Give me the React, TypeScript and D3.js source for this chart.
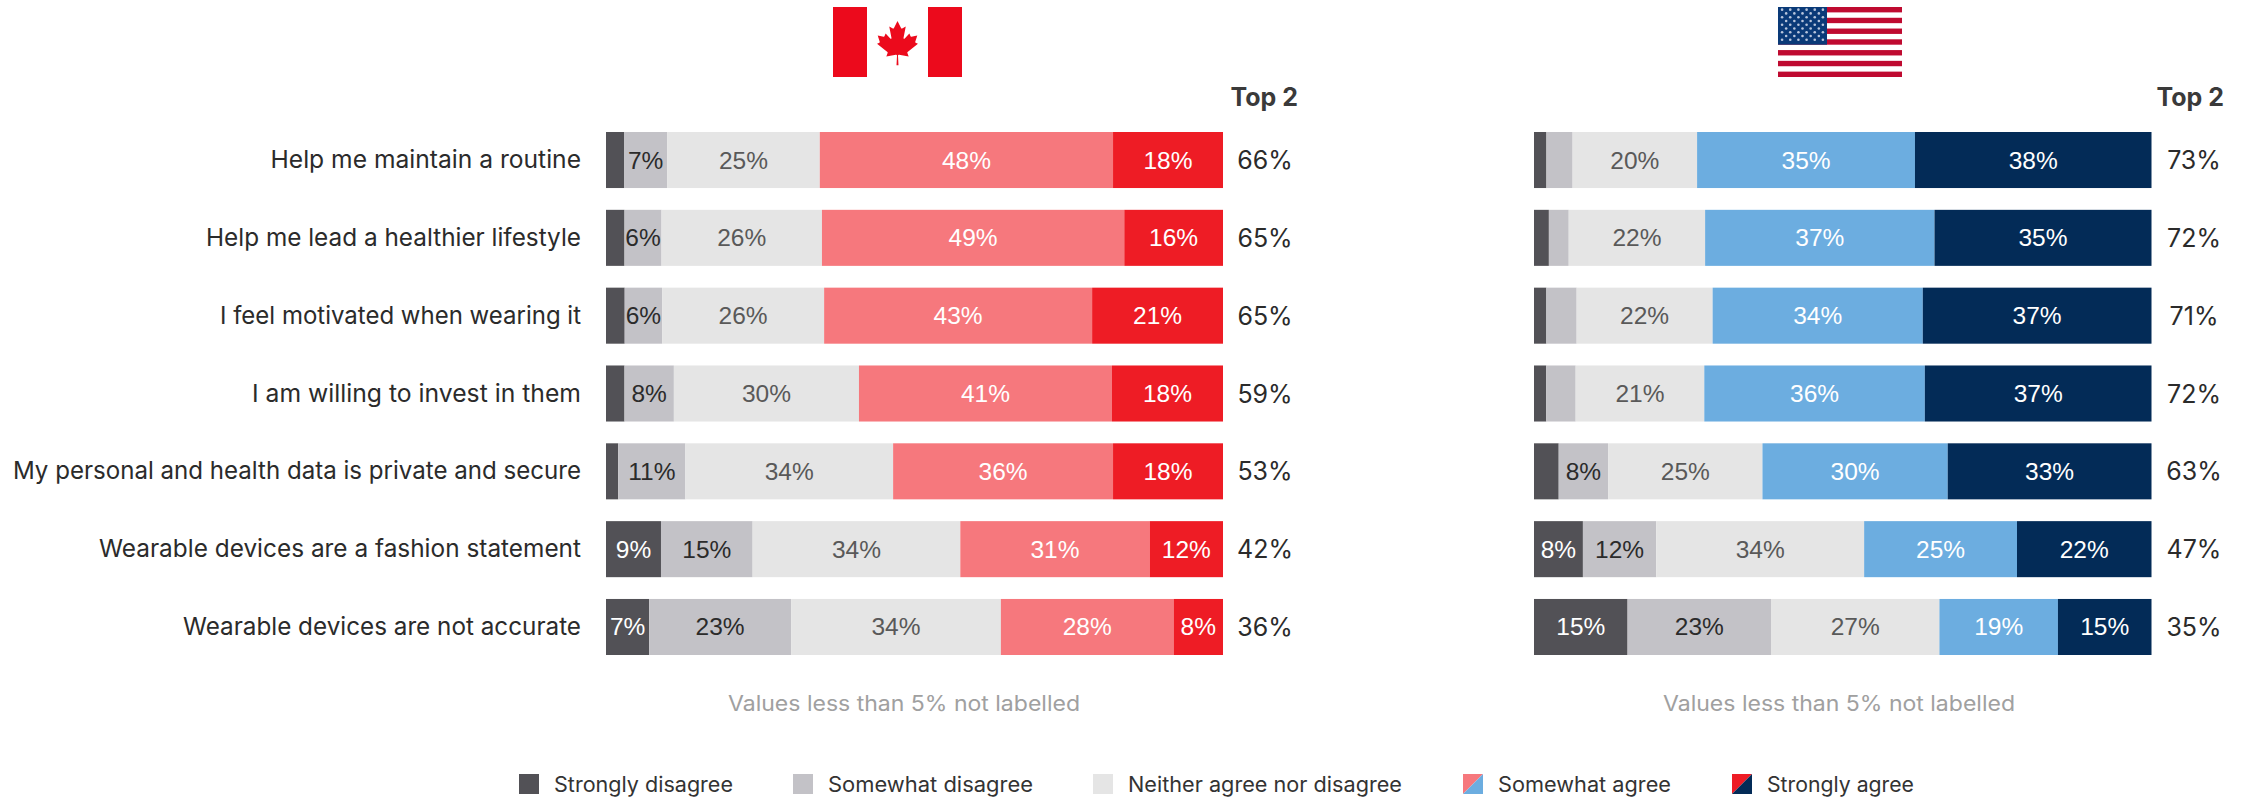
import React from "react";
import * as d3 from "d3";

// Survey statements, top to bottom
const statements = [
  "Help me maintain a routine",
  "Help me lead a healthier lifestyle",
  "I feel motivated when wearing it",
  "I am willing to invest in them",
  "My personal and health data is private and secure",
  "Wearable devices are a fashion statement",
  "Wearable devices are not accurate",
];
const statementWidths = [310.5, 375, 361, 329, 568, 482, 398];

const scaleKeys = ["sd", "wd", "n", "wa", "sa"] as const;

// Percent answering each point on the scale
const canadaSd = [3, 3, 3, 3, 2, 9, 7];
const canadaWd = [7, 6, 6, 8, 11, 15, 23];
const canadaN = [25, 26, 26, 30, 34, 34, 34];
const canadaWa = [48, 49, 43, 41, 36, 31, 28];
const canadaSa = [18, 16, 21, 18, 18, 12, 8];
const canadaTop2 = [66, 65, 65, 59, 53, 42, 36];

const usSd = [2, 2.4, 2, 2, 4, 8, 15];
const usWd = [4.2, 3.2, 4.9, 4.8, 8, 12, 23];
const usN = [20, 22, 22, 21, 25, 34, 27];
const usWa = [35, 37, 34, 36, 30, 25, 19];
const usSa = [38, 35, 37, 37, 33, 22, 15];
const usTop2 = [73, 72, 71, 72, 63, 47, 35];

const legendLabels = [
  "Strongly disagree",
  "Somewhat disagree",
  "Neither agree nor disagree",
  "Somewhat agree",
  "Strongly agree",
];
const legendX = [519, 793, 1093, 1463, 1732];
const legendTextWidths = [179, 205, 274, 173, 147];

const NOTE = "Values less than 5% not labelled";
const LABEL_FONT = "'Liberation Sans', Arial, sans-serif";
const UI_FONT = "Inter, 'Noto Sans', sans-serif";

const GREY_DARK = "#525156";
const GREY_MID = "#c3c2c7";
const GREY_LIGHT = "#e5e5e5";
const TEXT_DARK = "#2b2b2b";

const rowScale = d3
  .scaleBand<string>()
  .domain(statements)
  .range([132, 655])
  .paddingInner(0.28);

type PanelProps = {
  left: number;
  right: number;
  series: number[][];
  top2: number[];
  colors: string[];
  top2Center: number;
  headerRight: number;
  noteCenter: number;
};

function Panel({ left, right, series, top2, colors, top2Center, headerRight, noteCenter }: PanelProps) {
  const rows = statements.map((s, i) => {
    const row: Record<string, any> = { statement: s };
    scaleKeys.forEach((k, j) => (row[k] = series[j][i]));
    return row;
  });
  const stacked = d3
    .stack<any>()
    .keys(scaleKeys as unknown as string[])
    .offset(d3.stackOffsetExpand)(rows);
  const x = d3.scaleLinear().domain([0, 1]).range([left, right]);
  const labelColors = ["#ffffff", "#2b2b2b", "#595959", "#ffffff", "#ffffff"];

  return (
    <g>
      {stacked.map((layer, j) => (
        <g key={layer.key}>
          {layer.map((d, i) => {
            const y = rowScale(statements[i])!;
            const h = rowScale.bandwidth();
            const value = series[j][i];
            return (
              <g key={i}>
                <rect x={x(d[0])} y={y} width={x(d[1]) - x(d[0])} height={h} fill={colors[j]} />
                {value >= 5 && (
                  <text
                    x={(x(d[0]) + x(d[1])) / 2}
                    y={y + h / 2 + 8.5}
                    textAnchor="middle"
                    fontFamily={LABEL_FONT}
                    fontSize={24.5}
                    fill={labelColors[j]}
                  >
                    {`${value}%`}
                  </text>
                )}
              </g>
            );
          })}
        </g>
      ))}
      {top2.map((v, i) => (
        <text
          key={i}
          x={top2Center}
          y={rowScale(statements[i])! + rowScale.bandwidth() / 2 + 9}
          textAnchor="middle"
          fontFamily={UI_FONT}
          fontSize={25}
          fill={TEXT_DARK}
        >
          {`${v}%`}
        </text>
      ))}
      <text
        x={headerRight}
        y={105.5}
        textAnchor="end"
        fontFamily={UI_FONT}
        fontSize={25}
        fontWeight={700}
        fill="#3a3a3a"
      >
        Top 2
      </text>
      <text
        x={noteCenter}
        y={711}
        textAnchor="middle"
        fontFamily={UI_FONT}
        fontSize={21}
        fill="#a0a0a0"
        textLength={352}
        lengthAdjust="spacingAndGlyphs"
      >
        {NOTE}
      </text>
    </g>
  );
}

const LEAF =
  "m90 2030-45-863a95 95 0 0 1 111-98l859 151-116-320a65 65 0 0 1 20-73l941-762-212-99a65 65 0 0 1-34-79l186-572-542 115a65 65 0 0 1-73-38l-105-247-423 454a65 65 0 0 1-111-57l204-1052-327 189a65 65 0 0 1-91-27l-332-652-332 652a65 65 0 0 1-91 27l-327-189 204 1052a65 65 0 0 1-111 57l-423-454-105 247a65 65 0 0 1-73 38l-542-115 186 572a65 65 0 0 1-34 79l-212 99 941 762a65 65 0 0 1 20 73l-116 320 859-151a95 95 0 0 1 111 98l-45 863z";

function CanadaFlag() {
  return (
    <g>
      <rect x={833} y={7} width={129} height={70} fill="#ec0a1c" />
      <rect x={867} y={7} width={61} height={70} fill="#ffffff" />
      <path d={LEAF} transform="translate(897.5 43) scale(0.011)" fill="#ec0a1c" />
    </g>
  );
}

function UsFlag() {
  const fx = 1778;
  const fy = 7;
  const w = 124;
  const h = 70;
  const stripeH = h / 13;
  const cantonW = 49;
  const cantonH = stripeH * 7;
  const stars: [number, number][] = [];
  d3.range(9).forEach((r) => {
    const count = r % 2 === 0 ? 6 : 5;
    d3.range(count).forEach((c) => {
      const offset = r % 2 === 0 ? 0.5 : 1;
      stars.push([fx + ((c + offset) * cantonW) / 6, fy + ((r + 0.7) * cantonH) / 10]);
    });
  });
  return (
    <g>
      <rect x={fx} y={fy} width={w} height={h} fill="#ffffff" />
      {d3.range(0, 13, 2).map((i) => (
        <rect key={i} x={fx} y={fy + i * stripeH} width={w} height={stripeH} fill="#bf0a30" />
      ))}
      <rect x={fx} y={fy} width={cantonW} height={cantonH} fill="#0a3a78" />
      {stars.map(([sx, sy], i) => (
        <circle key={i} cx={sx} cy={sy} r={1.3} fill="#b9c6dc" />
      ))}
    </g>
  );
}

function Legend() {
  const y = 774;
  const s = 20;
  const swatch = (i: number, x: number) => {
    if (i < 3) {
      return <rect x={x} y={y} width={s} height={s} fill={[GREY_DARK, GREY_MID, GREY_LIGHT][i]} />;
    }
    const ca = i === 3 ? "#f6787d" : "#ee1c25";
    const us = i === 3 ? "#6cade0" : "#032b57";
    return (
      <g>
        <path d={`M${x} ${y}H${x + s}L${x} ${y + s}Z`} fill={ca} />
        <path d={`M${x + s} ${y}V${y + s}H${x}Z`} fill={us} />
      </g>
    );
  };
  return (
    <g>
      {legendLabels.map((label, i) => (
        <g key={label}>
          {swatch(i, legendX[i])}
          <text
            x={legendX[i] + 35}
            y={792}
            fontFamily={UI_FONT}
            fontSize={21}
            fill="#333333"
            textLength={legendTextWidths[i]}
            lengthAdjust="spacingAndGlyphs"
          >
            {label}
          </text>
        </g>
      ))}
    </g>
  );
}

export default function App() {
  return (
    <svg
      width={2244}
      height={797}
      viewBox="0 0 2244 797"
      style={{ position: "absolute", left: 0, top: 0, display: "block", background: "#fff" }}
    >
      <CanadaFlag />
      <UsFlag />
      {statements.map((s, i) => (
        <text
          key={s}
          x={581}
          y={rowScale(s)! + rowScale.bandwidth() / 2 + 8}
          textAnchor="end"
          fontFamily={UI_FONT}
          fontSize={24.5}
          fill={TEXT_DARK}
          textLength={statementWidths[i]}
          lengthAdjust="spacingAndGlyphs"
        >
          {s}
        </text>
      ))}
      <Panel
        left={606}
        right={1223}
        series={[canadaSd, canadaWd, canadaN, canadaWa, canadaSa]}
        top2={canadaTop2}
        colors={[GREY_DARK, GREY_MID, GREY_LIGHT, "#f6787d", "#ee1c25"]}
        top2Center={1265}
        headerRight={1298}
        noteCenter={904}
      />
      <Panel
        left={1534}
        right={2151.5}
        series={[usSd, usWd, usN, usWa, usSa]}
        top2={usTop2}
        colors={[GREY_DARK, GREY_MID, GREY_LIGHT, "#6cade0", "#032b57"]}
        top2Center={2194}
        headerRight={2224}
        noteCenter={1839}
      />
      <Legend />
    </svg>
  );
}
